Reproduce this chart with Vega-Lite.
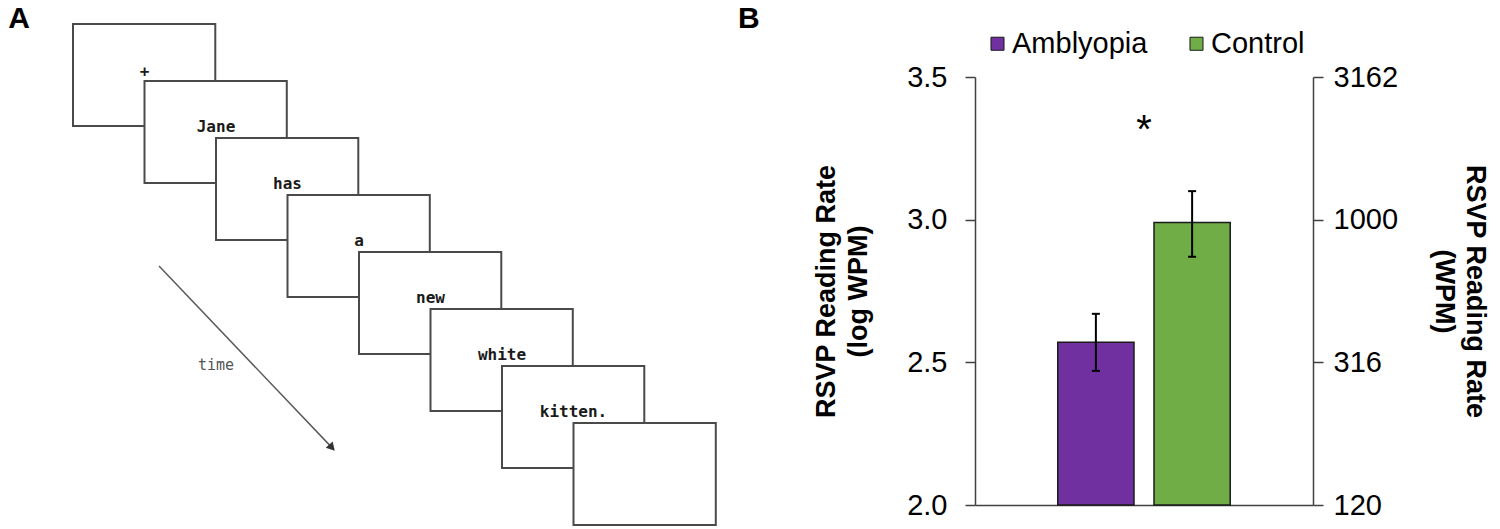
{
  "$schema": "https://vega.github.io/schema/vega-lite/v6.json",
  "background": "white",
  "padding": {"left": 0, "top": 4, "right": 14, "bottom": 0},
  "config": {"view": {"stroke": null}},
  "bounds": "flush",
  "spacing": 175,
  "datasets": {
    "frames": [
      {"frame": 1, "word": "+", "x0": 0, "x1": 1.99, "y0": 0, "y1": 1.79, "cx": 1, "cy": 0.93},
      {"frame": 2, "word": "Jane", "x0": 1, "x1": 2.99, "y0": 1, "y1": 2.79, "cx": 2, "cy": 1.886},
      {"frame": 3, "word": "has", "x0": 2, "x1": 3.99, "y0": 2, "y1": 3.79, "cx": 3, "cy": 2.886},
      {"frame": 4, "word": "a", "x0": 3, "x1": 4.99, "y0": 3, "y1": 4.79, "cx": 4, "cy": 3.886},
      {"frame": 5, "word": "new", "x0": 4, "x1": 5.99, "y0": 4, "y1": 5.79, "cx": 5, "cy": 4.886},
      {"frame": 6, "word": "white", "x0": 5, "x1": 6.99, "y0": 5, "y1": 6.79, "cx": 6, "cy": 5.886},
      {"frame": 7, "word": "kitten.", "x0": 6, "x1": 7.99, "y0": 6, "y1": 7.79, "cx": 7, "cy": 6.886},
      {"frame": 8, "word": "", "x0": 7, "x1": 8.99, "y0": 7, "y1": 8.79, "cx": 8, "cy": 7.886}
    ],
    "panels": [
      {"panel": "A", "px": -0.905, "py": 0.075},
      {"panel": "B", "px": 9.30, "py": 0.075}
    ],
    "arrow": [
      {"note": "time", "xs": 1.203, "ys": 4.246, "xe": 3.622, "ye": 7.432, "nx": 2.0, "ny": 6.07}
    ],
    "rates": [
      {"group": "Amblyopia", "mean": 2.57, "lo": 2.47, "hi": 2.67},
      {"group": "Control", "mean": 2.99, "lo": 2.87, "hi": 3.10, "sig": "*", "sig_y": 3.27}
    ]
  },
  "hconcat": [
    {
      "width": 800,
      "height": 428,
      "layer": [
        {
          "data": {"name": "frames"},
          "mark": {"type": "rect", "fill": "white", "stroke": "#4a4a4a", "strokeWidth": 2},
          "encoding": {
            "x": {"field": "x0", "type": "quantitative", "scale": {"domain": [-1.021, 10.1678], "nice": false, "zero": false}, "axis": null},
            "x2": {"field": "x1"},
            "y": {"field": "y0", "type": "quantitative", "scale": {"domain": [0.92982, 8.4386], "nice": false, "zero": false, "reverse": true}, "axis": null},
            "y2": {"field": "y1"}
          }
        },
        {
          "data": {"name": "frames"},
          "mark": {"type": "text", "font": "DejaVu Sans Mono", "fontWeight": "bold", "fontSize": 16, "color": "#1a1a1a", "align": "center", "baseline": "alphabetic"},
          "encoding": {
            "x": {"field": "cx", "type": "quantitative"},
            "y": {"field": "cy", "type": "quantitative"},
            "text": {"field": "word"}
          }
        },
        {
          "data": {"name": "arrow"},
          "mark": {"type": "rule", "stroke": "#5a5a5a", "strokeWidth": 1.5},
          "encoding": {
            "x": {"field": "xs", "type": "quantitative"},
            "y": {"field": "ys", "type": "quantitative"},
            "x2": {"field": "xe"},
            "y2": {"field": "ye"}
          }
        },
        {
          "data": {"name": "arrow"},
          "mark": {"type": "point", "shape": "triangle-up", "filled": true, "color": "#333333", "opacity": 1, "size": 90, "angle": 137},
          "encoding": {
            "x": {"field": "xe", "type": "quantitative"},
            "y": {"field": "ye", "type": "quantitative"}
          }
        },
        {
          "data": {"name": "arrow"},
          "mark": {"type": "text", "font": "DejaVu Sans Mono", "fontSize": 15, "color": "#555555", "align": "center", "baseline": "alphabetic"},
          "encoding": {
            "x": {"field": "nx", "type": "quantitative"},
            "y": {"field": "ny", "type": "quantitative"},
            "text": {"field": "note"}
          }
        },
        {
          "data": {"name": "panels"},
          "mark": {"type": "text", "font": "Liberation Sans", "fontWeight": "bold", "fontSize": 30, "color": "black", "align": "left", "baseline": "alphabetic"},
          "encoding": {
            "x": {"field": "px", "type": "quantitative"},
            "y": {"field": "py", "type": "quantitative"},
            "text": {"field": "panel"}
          }
        }
      ]
    },
    {
      "width": 338,
      "height": 428,
      "data": {"name": "rates"},
      "layer": [
        {
          "layer": [
            {
              "mark": {"type": "bar", "stroke": "#1a1a1a", "strokeWidth": 1.5},
              "encoding": {
                "x": {"field": "group", "type": "nominal", "sort": null, "scale": {"paddingInner": 0.208, "paddingOuter": 0.86},
                      "axis": {"labels": false, "ticks": false, "title": null, "domain": true, "domainColor": "#404040", "domainWidth": 1.5}},
                "y": {"field": "mean", "type": "quantitative", "scale": {"domain": [2, 3.5], "nice": false, "zero": false},
                      "axis": {"values": [2, 2.5, 3, 3.5], "format": ".1f", "grid": false,
                               "labelFont": "Liberation Sans", "labelFontSize": 29, "labelColor": "black", "labelPadding": 18,
                               "tickSize": 10, "tickWidth": 1.5, "tickColor": "#404040", "domainColor": "#404040", "domainWidth": 1.5,
                               "title": ["RSVP Reading Rate", "(log WPM)"], "titleFont": "Liberation Sans", "titleFontSize": 27,
                               "titleFontWeight": "bold", "titleColor": "black", "titlePadding": 34, "titleLineHeight": 32}},
                "y2": {"datum": 2},
                "color": {"field": "group", "type": "nominal",
                          "scale": {"domain": ["Amblyopia", "Control"], "range": ["#7030A0", "#70AD47"]},
                          "legend": {"orient": "none", "legendX": 983, "legendY": -48, "direction": "horizontal", "title": null,
                                     "symbolType": "square", "symbolSize": 170, "symbolStrokeColor": "#1a1a1a", "symbolStrokeWidth": 1,
                                     "labelFont": "Liberation Sans", "labelFontSize": 29, "labelColor": "black", "labelOffset": 0,
                                     "columnPadding": 34}}
              }
            },
            {
              "mark": {"type": "rule", "color": "black", "strokeWidth": 2},
              "encoding": {
                "x": {"field": "group", "type": "nominal", "sort": null},
                "y": {"field": "lo", "type": "quantitative"},
                "y2": {"field": "hi"}
              }
            },
            {
              "mark": {"type": "tick", "color": "black", "thickness": 2, "size": 8, "opacity": 1},
              "encoding": {
                "x": {"field": "group", "type": "nominal", "sort": null},
                "y": {"field": "lo", "type": "quantitative"}
              }
            },
            {
              "mark": {"type": "tick", "color": "black", "thickness": 2, "size": 8, "opacity": 1},
              "encoding": {
                "x": {"field": "group", "type": "nominal", "sort": null},
                "y": {"field": "hi", "type": "quantitative"}
              }
            },
            {
              "transform": [{"filter": "datum.sig"}],
              "mark": {"type": "text", "font": "Liberation Sans", "fontSize": 40, "color": "black", "align": "center", "baseline": "alphabetic"},
              "encoding": {
                "y": {"field": "sig_y", "type": "quantitative"},
                "text": {"field": "sig"}
              }
            }
          ]
        },
        {
          "mark": {"type": "point", "opacity": 0},
          "encoding": {
            "y": {"field": "mean", "type": "quantitative", "scale": {"domain": [2, 3.5], "nice": false, "zero": false},
                  "axis": {"orient": "right", "values": [2, 2.5, 3, 3.5], "grid": false,
                           "labelExpr": "datum.value == 3.5 ? '3162' : datum.value == 3 ? '1000' : datum.value == 2.5 ? '316' : '120'",
                           "labelFont": "Liberation Sans", "labelFontSize": 29, "labelColor": "black", "labelPadding": 10,
                           "tickSize": 10, "tickWidth": 1.5, "tickColor": "#404040", "domainColor": "#404040", "domainWidth": 1.5,
                           "title": ["RSVP Reading Rate", "(WPM)"], "titleFont": "Liberation Sans", "titleFontSize": 27,
                           "titleFontWeight": "bold", "titleColor": "black", "titlePadding": 32, "titleLineHeight": 31}}
          }
        }
      ],
      "resolve": {"scale": {"y": "independent"}}
    }
  ]
}
